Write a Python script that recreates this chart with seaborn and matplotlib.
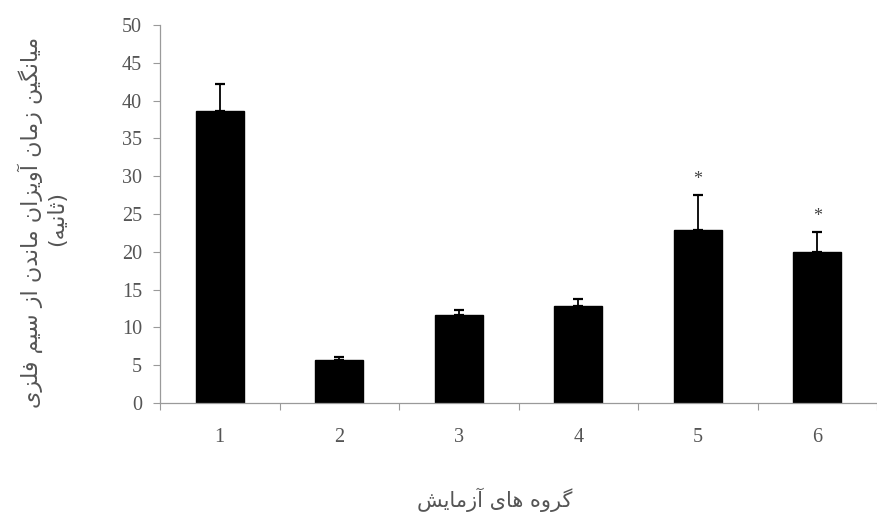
import matplotlib
matplotlib.use("Agg")
import matplotlib.pyplot as plt
import seaborn as sns
import pandas as pd

# Mean hanging time (s) per experimental group, with upper error bars
groups = ["1", "2", "3", "4", "5", "6"]
means = [38.6, 5.7, 11.6, 12.8, 22.9, 20.0]
errors = [3.6, 0.4, 0.7, 0.9, 4.6, 2.6]
significant = [False, False, False, False, True, True]

y_label_lines = ["میانگین زمان آویزان ماندن از سیم فلزی", "(ثانیه)"]
x_label = "گروه های آزمایش"
y_ticks = [0, 5, 10, 15, 20, 25, 30, 35, 40, 45, 50]

# --- minimal Persian shaping (contextual forms + visual order) ---
FORMS = {
    "ا": ("\uFE8D", "\uFE8E", None, None),
    "آ": ("\uFE81", "\uFE82", None, None),
    "د": ("\uFEA9", "\uFEAA", None, None),
    "ر": ("\uFEAD", "\uFEAE", None, None),
    "ز": ("\uFEAF", "\uFEB0", None, None),
    "و": ("\uFEED", "\uFEEE", None, None),
    "ب": ("\uFE8F", "\uFE90", "\uFE91", "\uFE92"),
    "ت": ("\uFE95", "\uFE96", "\uFE97", "\uFE98"),
    "ث": ("\uFE99", "\uFE9A", "\uFE9B", "\uFE9C"),
    "س": ("\uFEB1", "\uFEB2", "\uFEB3", "\uFEB4"),
    "ش": ("\uFEB5", "\uFEB6", "\uFEB7", "\uFEB8"),
    "ف": ("\uFED1", "\uFED2", "\uFED3", "\uFED4"),
    "ل": ("\uFEDD", "\uFEDE", "\uFEDF", "\uFEE0"),
    "م": ("\uFEE1", "\uFEE2", "\uFEE3", "\uFEE4"),
    "ن": ("\uFEE5", "\uFEE6", "\uFEE7", "\uFEE8"),
    "ه": ("\uFEE9", "\uFEEA", "\uFEEB", "\uFEEC"),
    "ی": ("\uFBFC", "\uFBFD", "\uFBFE", "\uFBFF"),
    "گ": ("\uFB92", "\uFB93", "\uFB94", "\uFB95"),
    "ک": ("\uFB8E", "\uFB8F", "\uFB90", "\uFB91"),
}


def dual(c):
    return c in FORMS and FORMS[c][2] is not None


def shape(text):
    out = []
    for i, c in enumerate(text):
        if c not in FORMS:
            out.append(c)
            continue
        prev = text[i - 1] if i > 0 else ""
        nxt = text[i + 1] if i + 1 < len(text) else ""
        jp = dual(prev)
        jn = dual(c) and nxt in FORMS
        iso, fin, ini, med = FORMS[c]
        if jp and jn:
            out.append(med)
        elif jp:
            out.append(fin)
        elif jn:
            out.append(ini)
        else:
            out.append(iso)
    vis = "".join(reversed(out))
    return vis.translate(str.maketrans("()", ")("))


sns.set_theme(style="white")
plt.rcParams["font.family"] = ["DejaVu Sans"]

grey = "#555555"
axis_grey = "#9a9a9a"

df = pd.DataFrame({"group": groups, "mean": means})

fig = plt.figure(figsize=(8.77, 5.19), dpi=100)
ax = fig.add_axes([160 / 877, 1 - 403 / 519, 1 - 160 / 877, (403 - 25) / 519])

sns.barplot(data=df, x="group", y="mean", color="black", width=0.4,
            saturation=1, edgecolor="black", ax=ax)
ax.errorbar(range(len(groups)), means, yerr=[[0] * len(errors), errors],
            fmt="none", ecolor="black", elinewidth=1.3, capsize=3.5,
            capthick=1.6)
for i, (m, e, s) in enumerate(zip(means, errors, significant)):
    if s:
        ax.text(i, m + e + 1.0, "*", ha="center", va="bottom",
                fontsize=13, color="#444444", family="Liberation Serif")

ax.set_xlim(-0.5, 5.5)
ax.set_ylim(0, 50)
ax.set_yticks(y_ticks)
ax.set_yticklabels([str(t) for t in y_ticks], family="Liberation Serif",
                   fontsize=14.5, color=grey)
ax.set_xticks(range(len(groups)))
ax.set_xticklabels(groups, family="Liberation Serif", fontsize=14.5, color=grey)
ax.set_xticks([i - 0.5 for i in range(len(groups) + 1)], minor=True)
ax.tick_params(axis="x", which="major", length=0, pad=18)
ax.tick_params(axis="x", which="minor", length=5, width=0.8, color=axis_grey,
               direction="out", bottom=True)
ax.tick_params(axis="y", length=5, width=0.8, color=axis_grey,
               direction="out", left=True, pad=8)
ax.set_xlabel("")
ax.set_ylabel("")
for side in ("top", "right"):
    ax.spines[side].set_visible(False)
for side in ("left", "bottom"):
    ax.spines[side].set_color(axis_grey)
    ax.spines[side].set_linewidth(0.9)

fig.text(30 / 877, 1 - 222 / 519, shape(y_label_lines[0]), rotation=90,
         ha="center", va="center", fontsize=16, color=grey)
fig.text(57 / 877, 1 - 218 / 519, shape(y_label_lines[1]), rotation=90,
         ha="center", va="center", fontsize=16, color=grey)
fig.text(495 / 877, 1 - 500 / 519, shape(x_label), ha="center", va="center",
         fontsize=15, color=grey)

fig.savefig("out.png", dpi=100, facecolor="white")
